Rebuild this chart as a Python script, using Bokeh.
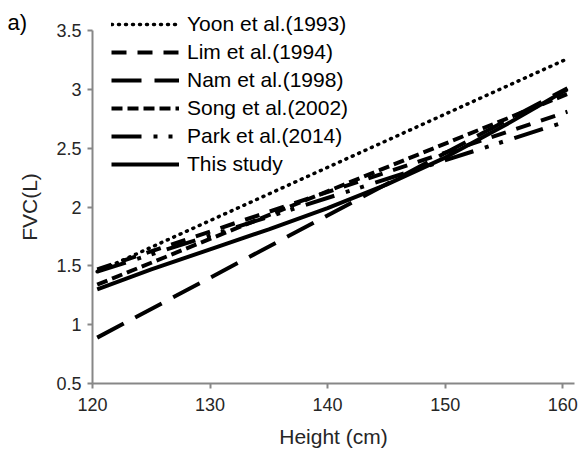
from bokeh.plotting import figure
from bokeh.models import Range1d, FixedTicker, Legend, LegendItem, Label
from bokeh.embed import file_html
from bokeh.resources import INLINE

# ---- data ----
series_names = ["Yoon et al.(1993)", "Lim et al.(1994)", "Nam et al.(1998)",
                "Song et al.(2002)", "Park et al.(2014)", "This study"]
height_ends = [120.4, 160.4]
yoon = [1.45, 3.26]
lim = [1.47, 2.81]
nam = [0.89, 3.01]
song = [1.34, 2.96]
park = [1.45, 2.73]
study_heights = [120.4, 125, 130, 135, 140, 145, 150, 155, 160.4]
study = [1.30, 1.47, 1.64, 1.81, 1.99, 2.19, 2.42, 2.69, 3.00]

x_ticks = [120, 130, 140, 150, 160]
x_tick_labels = ["120", "130", "140", "150", "160"]
y_ticks = [0.5, 1, 1.5, 2, 2.5, 3, 3.5]
y_tick_labels = ["0.5", "1", "1.5", "2", "2.5", "3", "3.5"]

FONT = "Liberation Sans"
TXT = "#262626"
AX = "#878787"

W, H = 587, 454
# frame covers the whole canvas; axes are pinned at data positions
# 120 -> x=92px, 161 -> x=574px ; 3.5 -> y=30px, 0.5 -> y=383px
px_per_x = (574 - 92) / 41.0
px_per_y = (383 - 30) / 3.0
x0 = 120 - 92 / px_per_x
x1 = 161 + (W - 574) / px_per_x
y1 = 3.5 + 30 / px_per_y
y0 = 0.5 - (H - 383) / px_per_y

p = figure(width=W, height=H, output_backend="svg", toolbar_location=None,
           x_range=Range1d(x0, x1), y_range=Range1d(y0, y1),
           min_border=0, min_border_left=0, min_border_right=0,
           min_border_top=0, min_border_bottom=0)
p.xgrid.visible = False
p.ygrid.visible = False
p.outline_line_color = None

for ax in (p.xaxis[0], p.yaxis[0]):
    ax.axis_line_color = AX
    ax.axis_line_width = 2
    ax.major_tick_line_color = AX
    ax.major_tick_line_width = 2
    ax.major_tick_out = 5
    ax.major_tick_in = 0
    ax.minor_tick_line_color = None
    ax.major_label_text_font = FONT
    ax.major_label_text_font_size = "18px"
    ax.major_label_text_color = TXT
    ax.axis_label_text_font = FONT
    ax.axis_label_text_font_size = "21px"
    ax.axis_label_text_font_style = "normal"
    ax.axis_label_text_color = TXT

p.xaxis.fixed_location = 0.5
p.xaxis.bounds = (120, 161)
p.yaxis.fixed_location = 120
p.yaxis.bounds = (0.5, 3.5)

p.xaxis.ticker = FixedTicker(ticks=x_ticks)
p.xaxis.major_label_overrides = dict(zip(x_ticks, x_tick_labels))
p.yaxis.ticker = FixedTicker(ticks=y_ticks)
p.yaxis.major_label_overrides = dict(zip(y_ticks, y_tick_labels))
p.xaxis.axis_label = "Height (cm)"
p.yaxis.axis_label = "FVC(L)"
p.xaxis.major_label_standoff = 9
p.xaxis.axis_label_standoff = 11
p.yaxis.major_label_standoff = 6
p.yaxis.axis_label_standoff = 12

r_yoon = p.line(height_ends, yoon, line_color="black", line_width=3.5,
                line_dash="1 6", line_cap="round")
r_lim = p.line(height_ends, lim, line_color="black", line_width=4, line_dash="15 11")
r_nam = p.line(height_ends, nam, line_color="black", line_width=4, line_dash="30 13")
r_song = p.line(height_ends, song, line_color="black", line_width=4, line_dash="11 5")
r_park = p.line(height_ends, park, line_color="black", line_width=4,
                line_dash="30 12 4 11 4 12")
r_study = p.line(study_heights, study, line_color="black", line_width=4)

renderers = [r_yoon, r_lim, r_nam, r_song, r_park, r_study]
legend = Legend(items=[LegendItem(label=n, renderers=[r]) for n, r in zip(series_names, renderers)],
                location=(111, 278), padding=0, margin=0, spacing=4,
                glyph_width=68, glyph_height=20, label_height=20, label_standoff=8,
                label_text_font=FONT, label_text_font_size="21px", label_text_color="black",
                background_fill_alpha=0, border_line_color=None)
p.add_layout(legend)

p.add_layout(Label(x=x0 + 7 / px_per_x, y=y1 - 22 / px_per_y, text="a)",
                   text_font=FONT, text_font_size="22px",
                   text_color="black", text_baseline="middle", text_align="left"))

open("out.html", "w").write(file_html(p, INLINE))
